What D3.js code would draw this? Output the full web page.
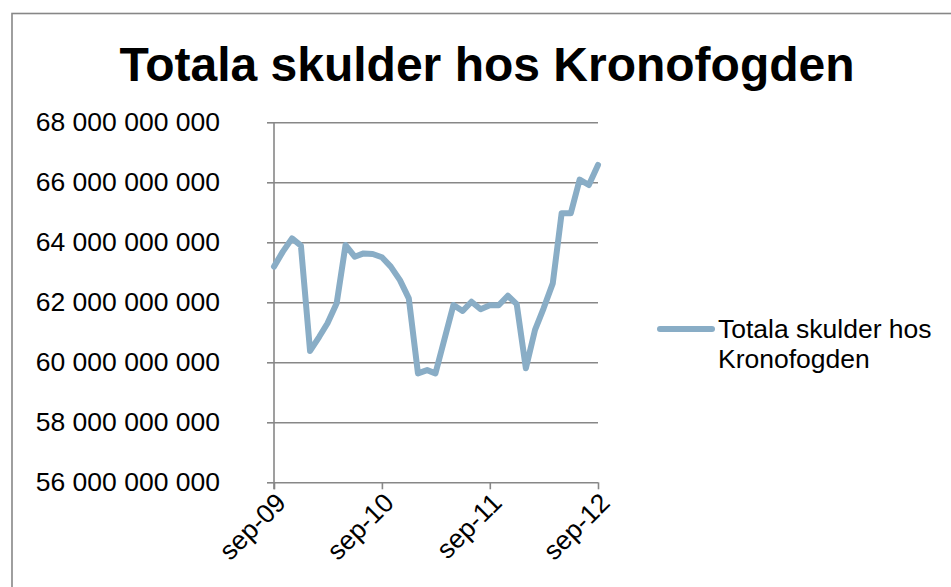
<!DOCTYPE html>
<html>
<head>
<meta charset="utf-8">
<script src="https://cdn.jsdelivr.net/npm/d3@7"></script>
<style>
  body { margin: 0; background: #fff; }
  svg { display: block; font-family: Arial, "Liberation Sans", sans-serif; }
</style>
</head>
<body>
<div class="chart"></div>
<script>
const chartTitle = "Totala skulder hos Kronofogden";
const legendLines = ["Totala skulder hos", "Kronofogden"];

// monthly figures, apr-11 is missing in the source
const months = [
  "2009-09", "2009-10", "2009-11", "2009-12", "2010-01", "2010-02", "2010-03", "2010-04",
  "2010-05", "2010-06", "2010-07", "2010-08", "2010-09", "2010-10", "2010-11", "2010-12",
  "2011-01", "2011-02", "2011-03", "2011-05", "2011-06", "2011-07", "2011-08", "2011-09",
  "2011-10", "2011-11", "2011-12", "2012-01", "2012-02", "2012-03", "2012-04", "2012-05",
  "2012-06", "2012-07", "2012-08", "2012-09"
];
const debts = [
  63.19e9, 63.69e9, 64.13e9, 63.89e9, 60.38e9, 60.85e9, 61.30e9, 61.97e9,
  63.91e9, 63.52e9, 63.63e9, 63.61e9, 63.50e9, 63.19e9, 62.74e9, 62.13e9,
  59.63e9, 59.74e9, 59.63e9, 61.91e9, 61.71e9, 62.02e9, 61.77e9, 61.90e9,
  61.90e9, 62.22e9, 61.94e9, 59.80e9, 61.08e9, 61.80e9, 62.63e9, 64.97e9,
  64.97e9, 66.09e9, 65.91e9, 66.58e9
];

const yTicks = [56e9, 58e9, 60e9, 62e9, 64e9, 66e9, 68e9];
const xTickMonths = ["2009-09", "2010-09", "2011-09", "2012-09"];
const xTickLabels = ["sep-09", "sep-10", "sep-11", "sep-12"];

const dimensions = {
  width: 951,
  height: 587,
  plot: { left: 274, right: 598, top: 122.3, bottom: 482.3 }
};
const labelFont = "26.5px Arial, 'Liberation Sans', sans-serif";

const parseMonth = d3.utcParse("%Y-%m");
const data = months.map((m, i) => ({ date: parseMonth(m), value: debts[i] }));

const svg = d3.select(".chart").append("svg")
  .attr("width", dimensions.width)
  .attr("height", dimensions.height);

// outer chart frame
svg.append("rect")
  .attr("x", 12).attr("y", 13.5)
  .attr("width", 960).attr("height", 600)
  .attr("fill", "none")
  .attr("stroke", "#878787")
  .attr("stroke-width", 1.6);

const x = d3.scaleUtc()
  .domain([parseMonth(xTickMonths[0]), parseMonth(xTickMonths[xTickMonths.length - 1])])
  .range([dimensions.plot.left, dimensions.plot.right]);

const y = d3.scaleLinear()
  .domain([yTicks[0], yTicks[yTicks.length - 1]])
  .range([dimensions.plot.bottom, dimensions.plot.top]);

const fmt = d3.formatLocale({ decimal: ",", thousands: " ", grouping: [3], currency: ["", " kr"] }).format(",d");

svg.append("text")
  .attr("x", 487)
  .attr("y", 81)
  .attr("text-anchor", "middle")
  .style("font-size", "48px")
  .style("font-weight", "bold")
  .text(chartTitle);

// y axis with gridlines
svg.append("g")
  .attr("transform", `translate(${dimensions.plot.left},0)`)
  .call(d3.axisLeft(y).tickValues(yTicks).tickFormat(fmt).tickSize(7).tickPadding(47))
  .call(g => g.select(".domain").remove())
  .call(g => g.selectAll(".tick line").clone()
    .attr("x1", 0)
    .attr("x2", dimensions.plot.right - dimensions.plot.left))
  .call(g => g.selectAll(".tick line")
    .attr("stroke", "#878787")
    .attr("stroke-width", 1.6))
  .call(g => g.selectAll(".tick text")
    .attr("fill", "#000")
    .style("font", labelFont));

svg.append("line")
  .attr("x1", dimensions.plot.left).attr("x2", dimensions.plot.left)
  .attr("y1", dimensions.plot.top).attr("y2", dimensions.plot.bottom + 7)
  .attr("stroke", "#878787")
  .attr("stroke-width", 1.6);

// x axis
svg.append("g")
  .attr("transform", `translate(0,${dimensions.plot.bottom})`)
  .call(d3.axisBottom(x).tickValues(xTickMonths.map(parseMonth)).tickFormat((d, i) => xTickLabels[i]).tickSize(7))
  .call(g => g.select(".domain").remove())
  .call(g => g.selectAll(".tick line")
    .attr("stroke", "#878787")
    .attr("stroke-width", 1.6))
  .call(g => g.selectAll(".tick text")
    .attr("fill", "#000")
    .style("font", labelFont)
    .attr("text-anchor", "end")
    .attr("dy", null)
    .attr("y", 0)
    .attr("transform", "translate(13,22) rotate(-45)"));

const line = d3.line()
  .x(d => x(d.date))
  .y(d => y(d.value));

svg.append("path")
  .datum(data)
  .attr("d", line)
  .attr("fill", "none")
  .attr("stroke", "#89adc6")
  .attr("stroke-width", 6)
  .attr("stroke-linejoin", "round")
  .attr("stroke-linecap", "round");

// legend
const legend = svg.append("g");
legend.append("line")
  .attr("x1", 660).attr("x2", 712)
  .attr("y1", 329).attr("y2", 329)
  .attr("stroke", "#89adc6")
  .attr("stroke-width", 6)
  .attr("stroke-linecap", "round");
legend.append("text")
  .attr("x", 718)
  .attr("y", 338)
  .style("font", labelFont)
  .selectAll("tspan")
  .data(legendLines)
  .join("tspan")
  .attr("x", 718)
  .attr("dy", (d, i) => i ? 30 : 0)
  .text(d => d);
</script>
</body>
</html>
